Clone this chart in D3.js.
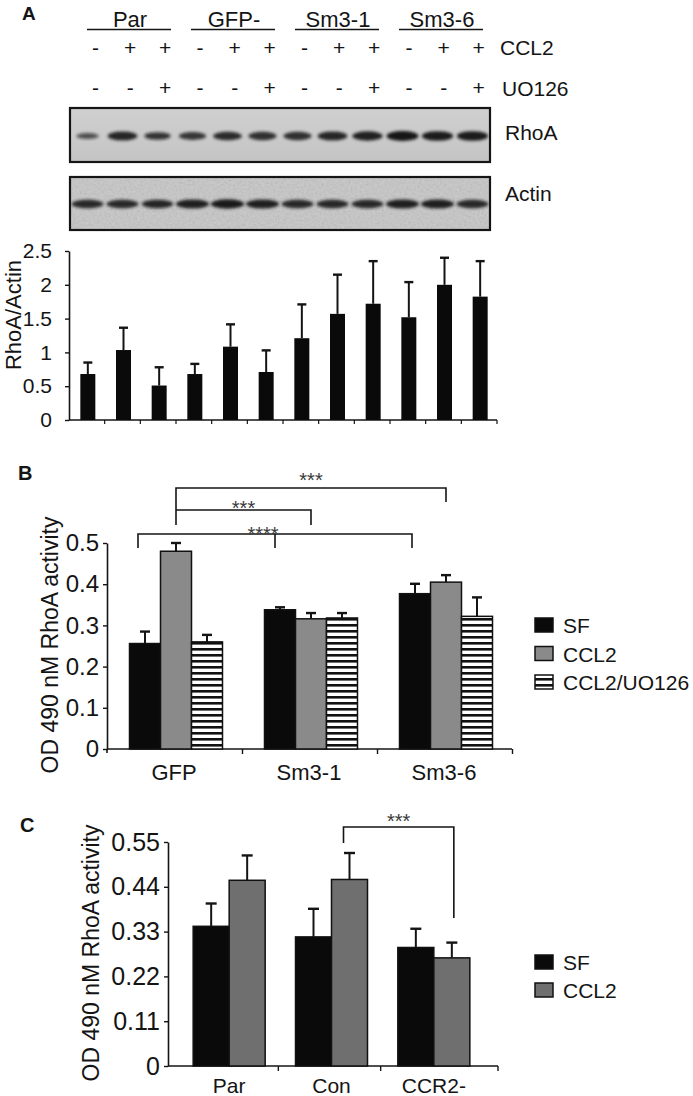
<!DOCTYPE html>
<html><head><meta charset="utf-8">
<script src="https://cdn.jsdelivr.net/npm/d3@7"></script>
<style>
body{margin:0;background:#fff}
svg{display:block}
text{font-family:"Liberation Sans",Arial,Helvetica,sans-serif;fill:#141414}
</style>
</head><body>
<svg id="c" width="693" height="1096"></svg>
<script>
// ---------------- DATA ----------------
// Panel A (western blot + quantification)
const groupsA = ["Par", "GFP-", "Sm3-1", "Sm3-6"];
const lanesA = d3.range(12);
const ccl2Signs  = ["-","+","+","-","+","+","-","+","+","-","+","+"];
const uo126Signs = ["-","-","+","-","-","+","-","-","+","-","-","+"];
const rhoaBand  = [0.4,0.85,0.65,0.7,0.8,0.75,0.75,0.85,0.9,1.0,0.95,0.95];
const actinBand = [0.8,0.8,0.75,0.9,0.95,0.9,0.8,0.8,0.8,0.9,0.9,0.8];
const rhoaActin    = [0.68,1.035,0.51,0.68,1.085,0.71,1.21,1.57,1.72,1.52,2.0,1.825];
const rhoaActinErr = [0.17,0.33,0.27,0.15,0.33,0.32,0.50,0.58,0.63,0.52,0.40,0.525];
const yTicksA = [0,0.5,1,1.5,2,2.5];

// Panel B
const catsB = ["GFP","Sm3-1","Sm3-6"];
const seriesB = ["SF","CCL2","CCL2/UO126"];
const sfB     = [0.256,0.338,0.377];
const ccl2B   = [0.480,0.316,0.405];
const uoB     = [0.260,0.318,0.322];
const sfBErr   = [0.029,0.006,0.024];
const ccl2BErr = [0.020,0.014,0.017];
const uoBErr   = [0.017,0.012,0.046];
const yTicksB = [0,0.1,0.2,0.3,0.4,0.5];

// Panel C
const catsC = ["Par","Con","CCR2-"];
const seriesC = ["SF","CCL2"];
const sfC     = [0.343,0.317,0.291];
const ccl2C   = [0.456,0.458,0.2655];
const sfCErr   = [0.056,0.069,0.046];
const ccl2CErr = [0.061,0.065,0.0375];
const yTicksC = [0,0.11,0.22,0.33,0.44,0.55];

// ---------------- DRAW ----------------
const svg = d3.select("#c");
const defs = svg.append("defs");
defs.append("filter").attr("id","blur").attr("x","-30%").attr("y","-100%").attr("width","160%").attr("height","300%")
  .append("feGaussianBlur").attr("stdDeviation",1.4);
const nf = defs.append("filter").attr("id","noise").attr("x",0).attr("y",0).attr("width","100%").attr("height","100%");
nf.append("feTurbulence").attr("type","fractalNoise").attr("baseFrequency",0.45).attr("numOctaves",2).attr("seed",4);
nf.append("feColorMatrix").attr("type","saturate").attr("values",0);
const pat = defs.append("pattern").attr("id","stripe").attr("patternUnits","userSpaceOnUse")
  .attr("width",8).attr("height",6);
pat.append("rect").attr("width",8).attr("height",6).attr("fill","#fff");
pat.append("rect").attr("y",0).attr("width",8).attr("height",2.6).attr("fill","#111");
const gradR = defs.append("linearGradient").attr("id","gR").attr("x1",0).attr("y1",0).attr("x2",0).attr("y2",1);
gradR.append("stop").attr("offset",0).attr("stop-color","#d0d0d0");
gradR.append("stop").attr("offset",1).attr("stop-color","#c4c4c4");

function label(t, x, y, size, opts={}) {
  const e = svg.append("text").attr("x",x).attr("y",y).attr("font-size",size).text(t);
  if (opts.anchor) e.attr("text-anchor",opts.anchor);
  if (opts.bold) e.attr("font-weight","bold");
  if (opts.fill) e.style("fill",opts.fill);
  return e;
}

// ----- Panel A header -----
label("A", 22, 20, 19, {bold:true});
const grpX = d3.scaleBand().domain(groupsA).range([77,493]);
groupsA.forEach(g => {
  const cx = grpX(g) + grpX.bandwidth()/2;
  label(g, cx+1, 27, 22, {anchor:"middle"});
  svg.append("line").attr("x1",grpX(g)+10).attr("x2",grpX(g)+grpX.bandwidth()-10)
    .attr("y1",29.5).attr("y2",29.5).attr("stroke","#141414").attr("stroke-width",1.4);
});
const signX = d3.scaleBand().domain(lanesA).range([78,496]);
lanesA.forEach(i => {
  const cx = signX(i) + signX.bandwidth()/2;
  label(ccl2Signs[i], cx, 55, 21, {anchor:"middle"});
  label(uo126Signs[i], cx, 95, 21, {anchor:"middle"});
});
label("CCL2", 500, 55, 21);
label("UO126", 502, 96, 21);

// ----- Blots -----
const laneX = d3.scaleBand().domain(lanesA).range([70,490]);
// RhoA
svg.append("rect").attr("x",70).attr("y",108).attr("width",420).attr("height",54).attr("fill","url(#gR)");
svg.append("g").attr("filter","url(#blur)").selectAll("ellipse").data(lanesA).join("ellipse")
  .attr("cx", i => laneX(i) + laneX.bandwidth()/2)
  .attr("cy", 136)
  .attr("rx", i => 8 + 8*rhoaBand[i])
  .attr("ry", i => 1.6 + 3.4*rhoaBand[i])
  .attr("fill","#141414")
  .attr("opacity", i => 0.45 + 0.55*rhoaBand[i]);
svg.append("rect").attr("x",70).attr("y",108).attr("width",420).attr("height",54)
  .attr("fill","none").attr("stroke","#151515").attr("stroke-width",2.2);
label("RhoA", 505, 140, 21);
// Actin
svg.append("rect").attr("x",70).attr("y",177).attr("width",420).attr("height",53).attr("fill","#c6c6c6");
svg.append("rect").attr("x",70).attr("y",177).attr("width",420).attr("height",53)
  .attr("filter","url(#noise)").attr("opacity",0.35);
svg.append("g").attr("filter","url(#blur)").selectAll("ellipse").data(lanesA).join("ellipse")
  .attr("cx", i => laneX(i) + laneX.bandwidth()/2)
  .attr("cy", 204)
  .attr("rx", i => 12 + 5*actinBand[i])
  .attr("ry", i => 2.2 + 2.6*actinBand[i])
  .attr("fill","#141414")
  .attr("opacity", i => 0.5 + 0.5*actinBand[i]);
svg.append("rect").attr("x",70).attr("y",177).attr("width",420).attr("height",53)
  .attr("fill","none").attr("stroke","#151515").attr("stroke-width",2.2);
label("Actin", 505, 201, 21);

function styleAxis(g, size) {
  g.selectAll("path").attr("stroke","#141414").attr("stroke-width",1.6);
  g.selectAll("line").attr("stroke","#141414").attr("stroke-width",1.4);
  g.selectAll("text").attr("font-size",size).style("font-family",'"Liberation Sans",Arial,sans-serif').style("fill","#141414");
}
function errBar(g, cx, y0, y1, cap, w) {
  g.append("line").attr("x1",cx).attr("x2",cx).attr("y1",y0).attr("y2",y1).attr("stroke","#141414").attr("stroke-width",w);
  g.append("line").attr("x1",cx-cap/2).attr("x2",cx+cap/2).attr("y1",y1).attr("y2",y1).attr("stroke","#141414").attr("stroke-width",w+0.4);
}

// ----- Panel A chart -----
const yA = d3.scaleLinear().domain([0,2.5]).range([420,251]);
const xA = d3.scaleBand().domain(lanesA).range([69,497]);
const gA = svg.append("g");
const axA = gA.append("g").attr("transform","translate(69,0)")
  .call(d3.axisLeft(yA).tickValues(yTicksA).tickSize(4).tickSizeOuter(0).tickPadding(13).tickFormat(d3.format("")));
styleAxis(axA, 21);
gA.append("line").attr("x1",69).attr("x2",497).attr("y1",420).attr("y2",420).attr("stroke","#141414").attr("stroke-width",1.6);
gA.selectAll(".xt").data(d3.range(1,13)).join("line")
  .attr("x1",i => 69 + xA.step()*i).attr("x2",i => 69 + xA.step()*i)
  .attr("y1",420).attr("y2",424).attr("stroke","#141414").attr("stroke-width",1.2);
const bwA = 15;
lanesA.forEach(i => {
  const cx = xA(i) + xA.bandwidth()/2 + 1;
  errBar(gA, cx, yA(rhoaActin[i]), yA(rhoaActin[i]+rhoaActinErr[i]), 9, 2);
});
gA.selectAll(".barA").data(lanesA).join("rect")
  .attr("x", i => xA(i) + xA.bandwidth()/2 - bwA/2 + 1)
  .attr("y", i => yA(rhoaActin[i]))
  .attr("width", bwA)
  .attr("height", i => yA(0) - yA(rhoaActin[i]))
  .attr("fill","#0a0a0a");
svg.append("text").attr("transform","translate(21,315) rotate(-90)").attr("text-anchor","middle")
  .attr("font-size",22).text("RhoA/Actin");

// ----- Panel B -----
label("B", 18, 480, 20, {bold:true});
const yB = d3.scaleLinear().domain([0,0.5]).range([749,543]);
const xB = d3.scaleBand().domain(catsB).range([108.5,513.5]);
const sB = d3.scaleBand().domain(seriesB).range([0,93]);
const offB = (xB.step()-93)/2;
const fillB = {"SF":"#0a0a0a","CCL2":"#8a8a8a","CCL2/UO126":"url(#stripe)"};
const valsB = {"SF":sfB,"CCL2":ccl2B,"CCL2/UO126":uoB};
const errsB = {"SF":sfBErr,"CCL2":ccl2BErr,"CCL2/UO126":uoBErr};
const gB = svg.append("g");
const axB = gB.append("g").attr("transform","translate(107,0)")
  .call(d3.axisLeft(yB).tickValues(yTicksB).tickSize(4).tickSizeOuter(0).tickPadding(4)
  .tickFormat(d => d === 0 ? "0" : d3.format(".1f")(d)));
styleAxis(axB, 24);
gB.append("line").attr("x1",107).attr("x2",107).attr("y1",749).attr("y2",753).attr("stroke","#141414").attr("stroke-width",1.6);
gB.append("line").attr("x1",107).attr("x2",512).attr("y1",749).attr("y2",749).attr("stroke","#141414").attr("stroke-width",1.6);
gB.selectAll(".xt").data([1,2,3]).join("line")
  .attr("x1",i => 108.5 + xB.step()*i - 1).attr("x2",i => 108.5 + xB.step()*i - 1)
  .attr("y1",749).attr("y2",754).attr("stroke","#141414").attr("stroke-width",1.4);
const bxB = (c,s) => xB(c) + offB + sB(s);
catsB.forEach((c,ci) => seriesB.forEach(s => {
  const v = valsB[s][ci], e = errsB[s][ci];
  errBar(gB, bxB(c,s) + sB.bandwidth()/2, yB(v), yB(v+e), 10, 2);
}));
catsB.forEach((c,ci) => seriesB.forEach(s => {
  const v = valsB[s][ci];
  gB.append("rect").attr("x",bxB(c,s)).attr("y",yB(v)).attr("width",sB.bandwidth()).attr("height",yB(0)-yB(v))
    .attr("fill",fillB[s]).attr("stroke","#111").attr("stroke-width",1.5);
}));
catsB.forEach(c => label(c, xB(c)+xB.bandwidth()/2 - 2, 780, 22, {anchor:"middle"}));
svg.append("text").attr("transform","translate(58,645) rotate(-90)").attr("text-anchor","middle")
  .attr("font-size",23).text("OD  490 nM RhoA activity");
// brackets B
const cB = (c,s) => bxB(c,s) + sB.bandwidth()/2;
const br = svg.append("g").attr("fill","none").attr("stroke","#141414").attr("stroke-width",1.6);
function bracket(pts) { br.append("path").attr("d", d3.line()(pts)); }
bracket([[cB("GFP","CCL2"),525],[cB("GFP","CCL2"),488],[cB("Sm3-6","CCL2"),488],[cB("Sm3-6","CCL2"),502]]);
bracket([[cB("GFP","CCL2"),510],[cB("Sm3-1","CCL2"),510],[cB("Sm3-1","CCL2"),525]]);
bracket([[cB("GFP","SF")-7,548],[cB("GFP","SF")-7,534],[cB("Sm3-6","SF")-3,534],[cB("Sm3-6","SF")-3,548]]);
bracket([[cB("Sm3-1","SF")-5,534],[cB("Sm3-1","SF")-5,548]]);
const sigCol = "#3a3a3a";
label("***", (cB("GFP","CCL2")+cB("Sm3-6","CCL2"))/2, 487, 20, {anchor:"middle", fill:sigCol});
label("***", (cB("GFP","CCL2")+cB("Sm3-1","CCL2"))/2, 515, 20, {anchor:"middle", fill:sigCol});
label("****", cB("Sm3-1","SF")-17, 541, 20, {anchor:"middle", fill:sigCol});
// legend B
seriesB.forEach((s,i) => {
  const y = 618 + i*28.5;
  svg.append("rect").attr("x",535).attr("y",y).attr("width",18).attr("height",14)
    .attr("fill",fillB[s]).attr("stroke","#111").attr("stroke-width",1.5);
  label(s, 563, y+15, 21);
});

// ----- Panel C -----
label("C", 20, 832, 20, {bold:true});
const yC = d3.scaleLinear().domain([0,0.55]).range([1066,842]);
const xC = d3.scaleBand().domain(catsC).range([178,485]);
const sC = d3.scaleBand().domain(seriesC).range([0,72]);
const offC = (xC.step()-72)/2;
const fillC = {"SF":"#0a0a0a","CCL2":"#6f6f6f"};
const valsC = {"SF":sfC,"CCL2":ccl2C};
const errsC = {"SF":sfCErr,"CCL2":ccl2CErr};
const gC = svg.append("g");
const axC = gC.append("g").attr("transform","translate(168,0)")
  .call(d3.axisLeft(yC).tickValues(yTicksC).tickSize(4).tickSizeOuter(0).tickPadding(4)
  .tickFormat(d => d === 0 ? "0" : d3.format(".2f")(d)));
styleAxis(axC, 25);
gC.append("line").attr("x1",168).attr("x2",498).attr("y1",1066).attr("y2",1066).attr("stroke","#141414").attr("stroke-width",1.6);
gC.selectAll(".xt").data([1,2]).join("line")
  .attr("x1",i => xC(catsC[i]) - 2).attr("x2",i => xC(catsC[i]) - 2)
  .attr("y1",1066).attr("y2",1071).attr("stroke","#141414").attr("stroke-width",1.4);
gC.append("line").attr("x1",498).attr("x2",498).attr("y1",1066).attr("y2",1071).attr("stroke","#141414").attr("stroke-width",1.4);
const bxC = (c,s) => xC(c) + offC + sC(s);
catsC.forEach((c,ci) => seriesC.forEach(s => {
  const v = valsC[s][ci], e = errsC[s][ci];
  errBar(gC, bxC(c,s) + sC.bandwidth()/2, yC(v), yC(v+e), 11, 2);
}));
catsC.forEach((c,ci) => seriesC.forEach(s => {
  const v = valsC[s][ci];
  gC.append("rect").attr("x",bxC(c,s)).attr("y",yC(v)).attr("width",sC.bandwidth()).attr("height",yC(0)-yC(v))
    .attr("fill",fillC[s]).attr("stroke","#111").attr("stroke-width",1.5);
}));
catsC.forEach(c => label(c, xC(c)+xC.bandwidth()/2, 1093, 21, {anchor:"middle"}));
svg.append("text").attr("transform","translate(99,953) rotate(-90)").attr("text-anchor","middle")
  .attr("font-size",23).text("OD  490 nM RhoA activity");
const cC = (c,s) => bxC(c,s) + sC.bandwidth()/2;
bracket([[cC("Con","CCL2")-6,843],[cC("Con","CCL2")-6,827],[cC("CCR2-","CCL2")+2,827],[cC("CCR2-","CCL2")+2,918]]);
label("***", (cC("Con","CCL2")+cC("CCR2-","CCL2"))/2 - 2, 828, 20, {anchor:"middle", fill:sigCol});
seriesC.forEach((s,i) => {
  const y = 955 + i*28;
  svg.append("rect").attr("x",535).attr("y",y).attr("width",18).attr("height",14)
    .attr("fill",fillC[s]).attr("stroke","#111").attr("stroke-width",1.5);
  label(s, 563, y+15, 21);
});
</script>
</body></html>
